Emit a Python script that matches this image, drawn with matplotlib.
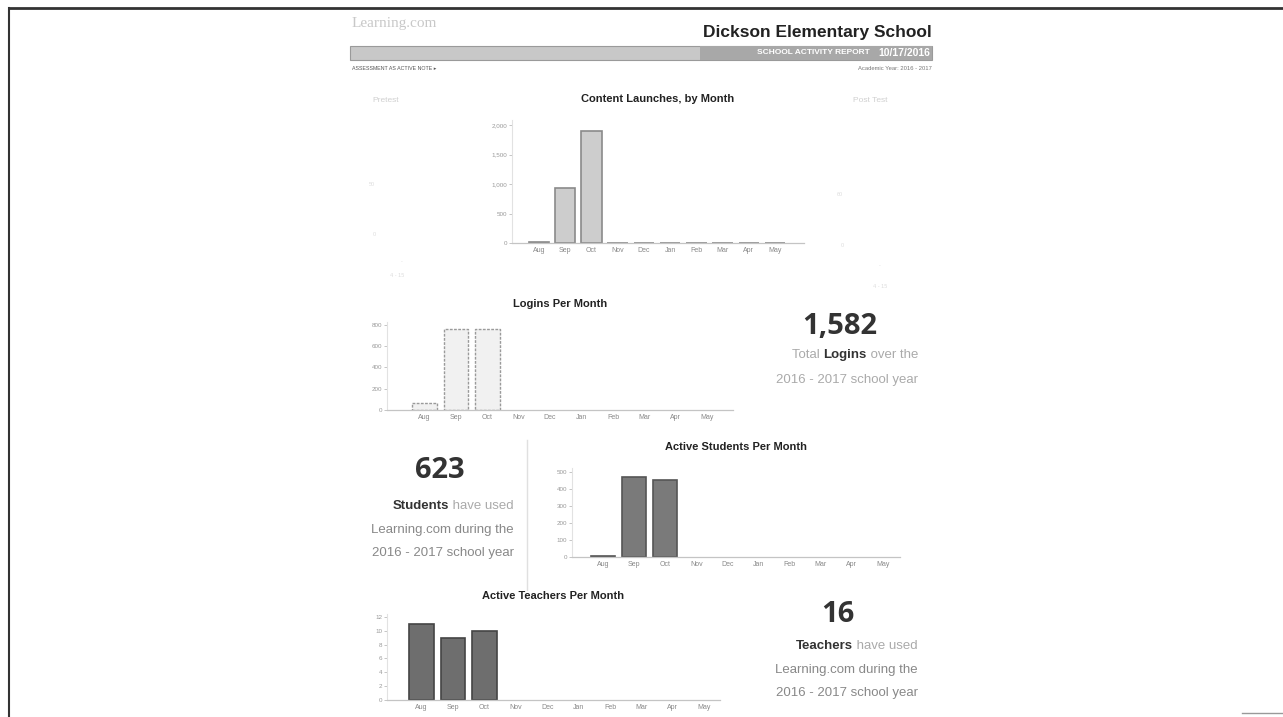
import numpy as np
import matplotlib
matplotlib.use('Agg')
import matplotlib.pyplot as plt
from matplotlib.patches import Rectangle

# report data
months = ['Aug', 'Sep', 'Oct', 'Nov', 'Dec', 'Jan', 'Feb', 'Mar', 'Apr', 'May']
launches = [12, 930, 1900, 4, 4, 8, 8, 6, 3, 3]
launch_ticks = [0, 500, 1000, 1500, 2000]
launch_labels = ['0', '500', '1,000', '1,500', '2,000']
logins = [66, 758, 758, 0, 0, 0, 0, 0, 0, 0]
login_ticks = [0, 200, 400, 600, 800]
students = [3, 470, 455, 0, 0, 0, 0, 0, 0, 0]
student_ticks = [0, 100, 200, 300, 400, 500]
teachers = [11, 9, 10, 0, 0, 0, 0, 0, 0, 0]
teacher_ticks = [0, 2, 4, 6, 8, 10, 12]

total_logins = '1,582'
total_students = '623'
total_teachers = '16'
school = 'Dickson Elementary School'
report_date = '10/17/2016'

W, H = 1283, 717
plt.rc('font', family='Liberation Sans')
fig = plt.figure(figsize=(W / 100, H / 100), dpi=100)
fig.patch.set_facecolor('white')
renderer = fig.canvas.get_renderer()


def box(l, t, r, b):
	return [l / W, 1 - b / H, (r - l) / W, (b - t) / H]


def fx(x):
	return x / W


def fy(y):
	return 1 - y / H


def rich_line(x_right, y, parts, size=9.5):
	# parts: list of (text, color, bold); drawn right to left so the line ends at x_right
	x = x_right
	for txt, col, bold in reversed(parts):
		t = fig.text(fx(x), fy(y), txt, fontsize=size, color=col, ha='right', va='center',
			fontweight='bold' if bold else 'normal')
		x -= t.get_window_extent(renderer).width


def bar_panel(rect, values, ticks, tlabels, xlim, ylim, face, edge, ls='-', lw=1.2):
	ax = fig.add_axes(box(*rect))
	x = np.arange(len(months))
	v = np.array(values, dtype=float)
	keep = v > 0
	ax.bar(x[keep], v[keep], width=0.78, color=face, edgecolor=edge, linewidth=lw, linestyle=ls, zorder=2)
	ax.set_xlim(*xlim)
	ax.set_ylim(0, ylim)
	ax.set_xticks(x)
	ax.set_xticklabels(months, fontsize=5, color='#888888')
	ax.set_yticks(ticks)
	ax.set_yticklabels(tlabels, fontsize=4.5, color='#999999')
	ax.tick_params(axis='x', length=0, pad=3)
	ax.tick_params(axis='y', length=2, width=0.6, color='#bbbbbb', pad=1.5)
	for s in ['top', 'right']:
		ax.spines[s].set_visible(False)
	ax.spines['left'].set_color('#e2e2e2')
	ax.spines['left'].set_linewidth(0.8)
	ax.spines['bottom'].set_color('#c4c4c4')
	ax.spines['bottom'].set_linewidth(0.9)
	ax.patch.set_alpha(0)
	return ax


# page frame
fig.add_artist(plt.Line2D([fx(10), fx(1283)], [fy(8), fy(8)], color='#333333', lw=2))
fig.add_artist(plt.Line2D([fx(9), fx(9)], [fy(8), fy(717)], color='#333333', lw=1.5))
fig.add_artist(plt.Line2D([fx(1242), fx(1283)], [fy(713), fy(713)], color='#999999', lw=1))

# header
fig.text(fx(352), fy(24), 'Learning.com', fontsize=11, color='#c8c8c8', family='Liberation Serif', va='center')
fig.text(fx(932), fy(33), school, fontsize=12.5, fontweight='bold', color='#222222', ha='right', va='center')
fig.add_artist(Rectangle((fx(350), fy(60)), fx(582), 14 / H, facecolor='#c8c8c8', edgecolor='#9a9a9a', lw=0.8))
fig.add_artist(Rectangle((fx(700), fy(60)), fx(232), 14 / H, facecolor='#a8a8a8', edgecolor='none'))
fig.text(fx(870), fy(53), 'SCHOOL ACTIVITY REPORT', fontsize=6, fontweight='bold', color='white', ha='right', va='center')
fig.text(fx(930), fy(53), report_date, fontsize=7.5, fontweight='bold', color='white', ha='right', va='center')
fig.text(fx(352), fy(69), 'ASSESSMENT AS ACTIVE NOTE \u25b8', fontsize=3.8, color='#555555', va='center',
	family=['Liberation Sans', 'DejaVu Sans'])
fig.text(fx(932), fy(69), 'Academic Year: 2016 - 2017', fontsize=4.2, color='#777777', ha='right', va='center')

# faint pre/post test side panels
fig.text(fx(386), fy(101), 'Pretest', fontsize=6, color='#d0d0d0', ha='center', va='center')
fig.text(fx(870), fy(100), 'Post Test', fontsize=6, color='#d0d0d0', ha='center', va='center')
for (xx, yy, t) in [(372, 184, '50'), (374, 234, '0'), (402, 262, '-'), (397, 275, '4 - 15'),
		(840, 195, '60'), (842, 245, '0'), (880, 266, '-'), (880, 286, '4 - 15')]:
	fig.text(fx(xx), fy(yy), t, fontsize=4, color='#dddddd', ha='center', va='center')

# content launches
ax1 = bar_panel((512, 120, 804, 243), launches, launch_ticks, launch_labels,
	(-1.03, 10.1), 2085, '#cdcdcd', '#8a8a8a')
ax1.set_title('Content Launches, by Month', fontsize=8, fontweight='bold', color='#222222', pad=13)

# logins
ax2 = bar_panel((387, 322, 733, 410), logins, login_ticks, [str(v) for v in login_ticks],
	(-1.19, 9.82), 828, '#f1f1f1', '#9a9a9a', ls=(0, (2, 1)), lw=1)
ax2.set_title('Logins Per Month', fontsize=8, fontweight='bold', color='#222222', pad=11)
ax2.spines['bottom'].set_linestyle((0, (2, 1)))

fig.text(fx(840), fy(326), total_logins, fontsize=21, fontweight='bold', color='#333333',
	ha='center', va='center', family='Open Sans')
rich_line(918, 355, [('Total ', '#aaaaaa', False), ('Logins', '#333333', True), (' over the', '#aaaaaa', False)])
rich_line(918, 380, [('2016 - 2017 school year', '#aaaaaa', False)])

# students
fig.add_artist(plt.Line2D([fx(527), fx(527)], [fy(440), fy(590)], color='#e0e0e0', lw=1))
fig.text(fx(440), fy(470), total_students, fontsize=21, fontweight='bold', color='#333333',
	ha='center', va='center', family='Open Sans')
rich_line(514, 506, [('Students', '#333333', True), (' have used', '#aaaaaa', False)])
rich_line(514, 530, [('Learning.com during the', '#888888', False)])
rich_line(514, 553, [('2016 - 2017 school year', '#888888', False)])

ax3 = bar_panel((572, 468, 900, 557), students, student_ticks, [str(v) for v in student_ticks],
	(-1.0, 9.55), 523, '#7a7a7a', '#555555')
ax3.set_title('Active Students Per Month', fontsize=8, fontweight='bold', color='#222222', pad=13)

# teachers
ax4 = bar_panel((387, 614, 720, 700), teachers, teacher_ticks, [str(v) for v in teacher_ticks],
	(-1.1, 9.5), 12.43, '#6e6e6e', '#444444')
ax4.set_title('Active Teachers Per Month', fontsize=8, fontweight='bold', color='#222222', pad=11)

fig.text(fx(838), fy(614), total_teachers, fontsize=21, fontweight='bold', color='#333333',
	ha='center', va='center', family='Open Sans')
rich_line(918, 646, [('Teachers', '#333333', True), (' have used', '#aaaaaa', False)])
rich_line(918, 670, [('Learning.com during the', '#888888', False)])
rich_line(918, 693, [('2016 - 2017 school year', '#888888', False)])

fig.savefig('out.png', dpi=100)
